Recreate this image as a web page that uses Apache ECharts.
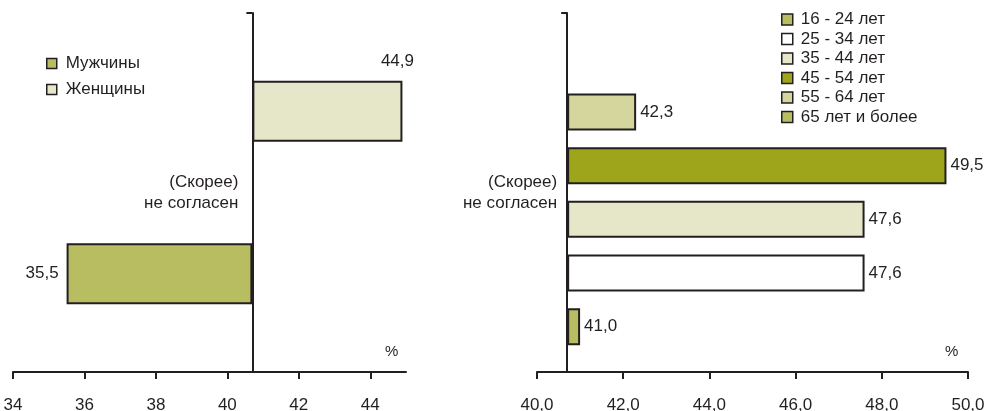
<!DOCTYPE html>
<html>
<head>
<meta charset="utf-8">
<script src="https://cdn.jsdelivr.net/npm/echarts@6/dist/echarts.min.js"></script>
<style>
  html, body { margin: 0; padding: 0; background: #fff; }
  #chart { width: 991px; height: 411px; }
</style>
</head>
<body>
<div id="chart"></div>
<script>
const category = '(Скорее)\nне согласен'
const baseline = 40.7

const genderNames = ['Мужчины', 'Женщины']
const genderValues = [35.5, 44.9]
const genderTicks = [34, 36, 38, 40, 42, 44]

const ageNames = ['16 - 24 лет', '25 - 34 лет', '35 - 44 лет', '45 - 54 лет', '55 - 64 лет', '65 лет и более']
const ageValues = [41.0, 47.6, 47.6, 49.5, 42.3, null]
const ageTicks = [40, 42, 44, 46, 48, 50]

const genderColors = ['#b9bd62', '#e6e6c8']
const ageColors = ['#b9bd62', '#ffffff', '#e6e6c8', '#9fa51a', '#d5d69d', '#b9bd62']

const textColor = '#231f20'
const font = "'Liberation Sans', Arial, sans-serif"
const lineStyle = { color: '#231f20', width: 2 }
const fmt = (v) => v.toFixed(1).replace('.', ',')

const chart = echarts.init(document.getElementById('chart'))

// visible axis with ticks, plus a hidden one shifted so that 0 sits on the baseline
const xAxes = (grid, min, max, ticks, formatter) => [{
  gridIndex: grid,
  type: 'value',
  min,
  max,
  position: 'bottom',
  axisLine: { show: true, onZero: false, lineStyle },
  axisTick: { show: true, length: 7, lineStyle, customValues: ticks },
  axisLabel: { customValues: ticks, margin: 25, fontSize: 17, color: textColor, formatter },
  splitLine: { show: false },
}, {
  gridIndex: grid,
  type: 'value',
  min: min - baseline,
  max: max - baseline,
  position: 'top',
  show: false,
}]

const yAxis = (grid, margin) => ({
  gridIndex: grid,
  type: 'category',
  data: [category],
  position: 'left',
  offset: 0,
  axisLine: { show: true, onZero: false, lineStyle },
  axisTick: { show: true, length: 6, lineStyle },
  axisLabel: { margin, fontSize: 17, lineHeight: 21, color: textColor },
  splitLine: { show: false },
})

const barStyle = (color) => ({ color, borderColor: '#231f20', borderWidth: 2 })

const genderSeries = genderNames.map((name, i) => ({
  name,
  type: 'bar',
  xAxisIndex: 1,
  yAxisIndex: 0,
  barWidth: 61,
  barGap: '166%',
  itemStyle: barStyle(genderColors[i]),
  label: Object.assign({
    show: true,
    fontSize: 17,
    color: textColor,
    formatter: () => fmt(genderValues[i]),
  }, i === 0
    ? { position: 'left', distance: 8 }
    : { position: ['100%', 0], align: 'center', verticalAlign: 'bottom', offset: [-5, -11] }),
  data: [genderValues[i] - baseline],
})).reverse()

const ageSeries = ageNames.map((name, i) => ({
  name,
  type: 'bar',
  xAxisIndex: 3,
  yAxisIndex: 1,
  barWidth: 37,
  barGap: '45%',
  itemStyle: barStyle(ageColors[i]),
  label: {
    show: true,
    position: 'right',
    distance: 4,
    fontSize: 17,
    color: textColor,
    formatter: () => fmt(ageValues[i]),
  },
  data: [ageValues[i] == null ? null : ageValues[i] - baseline],
})).reverse()

const legendStyle = {
  orient: 'vertical',
  icon: 'rect',
  itemStyle: { borderColor: '#231f20', borderWidth: 1.5 },
}

chart.setOption({
  animation: false,
  textStyle: { fontFamily: font, color: textColor },
  grid: [
    { left: 13, top: 13, width: 393, height: 359, outerBoundsMode: 'none', containLabel: false },
    { left: 537, top: 13, width: 431, height: 359, outerBoundsMode: 'none', containLabel: false },
  ],
  legend: [
    Object.assign({}, legendStyle, {
      data: genderNames, left: 41, top: 50, itemWidth: 10, itemHeight: 10, itemGap: 9,
      textStyle: { fontSize: 17, color: textColor, padding: [0, 0, 0, 4] },
    }),
    Object.assign({}, legendStyle, {
      data: ageNames, left: 776, top: 6, itemWidth: 11, itemHeight: 11, itemGap: 2.5,
      textStyle: { fontSize: 17, color: textColor, padding: [0, 0, 0, 3] },
    }),
  ],
  xAxis: [
    ...xAxes(0, 34, 45, genderTicks, (v) => String(v)),
    ...xAxes(1, 40, 50, ageTicks, fmt),
  ],
  yAxis: [yAxis(0, 14), yAxis(1, 10)],
  graphic: [
    { type: 'text', left: 385, top: 344, style: { text: '%', fontSize: 15, fontFamily: font, fill: textColor } },
    { type: 'text', left: 945, top: 344, style: { text: '%', fontSize: 15, fontFamily: font, fill: textColor } },
  ],
  series: [...genderSeries, ...ageSeries],
})

// move each category axis onto the baseline (zero of the shifted hidden axis)
const shift = (hiddenIndex, visibleIndex, min) =>
  chart.convertToPixel({ xAxisIndex: visibleIndex }, min) - chart.convertToPixel({ xAxisIndex: hiddenIndex }, 0)
chart.setOption({
  yAxis: [{ offset: shift(1, 0, 34) }, { offset: shift(3, 2, 40) }],
})
</script>
</body>
</html>
